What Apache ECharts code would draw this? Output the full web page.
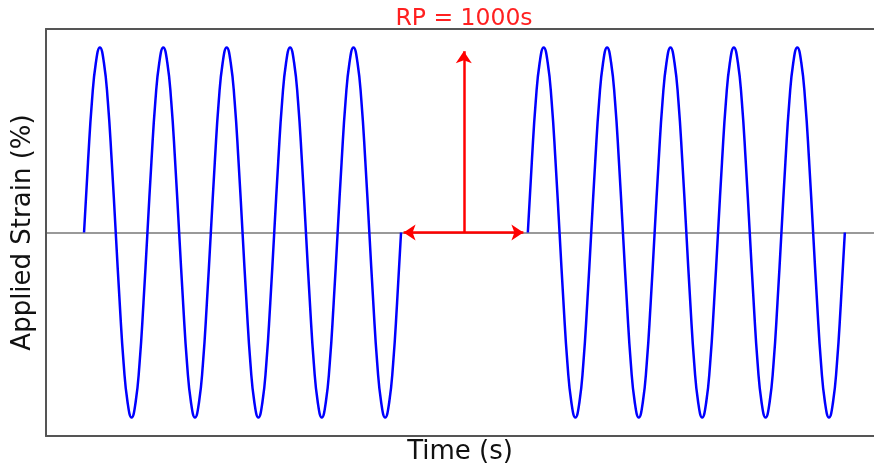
<!DOCTYPE html>
<html>
<head>
<meta charset="utf-8">
<script src="https://cdn.jsdelivr.net/npm/echarts@6/dist/echarts.min.js"></script>
<style>
  html, body { margin: 0; padding: 0; background: #fff; }
  #chart { width: 874px; height: 470px; }
</style>
</head>
<body>
<div id="chart"></div>
<script>
// time is in loading periods, sampled every 1/16 of a period
const sampleStep = 0.0625;
const block1Start = 0;
const block2Start = 7;

// strain values (peak = 1), five cycles per block
const strainBlock1 = [
  0, 0.38, 0.71, 0.92, 1, 0.92, 0.71, 0.38, 0, -0.38, -0.71, -0.92, -1, -0.92, -0.71, -0.38,
  0, 0.38, 0.71, 0.92, 1, 0.92, 0.71, 0.38, 0, -0.38, -0.71, -0.92, -1, -0.92, -0.71, -0.38,
  0, 0.38, 0.71, 0.92, 1, 0.92, 0.71, 0.38, 0, -0.38, -0.71, -0.92, -1, -0.92, -0.71, -0.38,
  0, 0.38, 0.71, 0.92, 1, 0.92, 0.71, 0.38, 0, -0.38, -0.71, -0.92, -1, -0.92, -0.71, -0.38,
  0, 0.38, 0.71, 0.92, 1, 0.92, 0.71, 0.38, 0, -0.38, -0.71, -0.92, -1, -0.92, -0.71, -0.38,
  0
];
const strainBlock2 = [
  0, 0.38, 0.71, 0.92, 1, 0.92, 0.71, 0.38, 0, -0.38, -0.71, -0.92, -1, -0.92, -0.71, -0.38,
  0, 0.38, 0.71, 0.92, 1, 0.92, 0.71, 0.38, 0, -0.38, -0.71, -0.92, -1, -0.92, -0.71, -0.38,
  0, 0.38, 0.71, 0.92, 1, 0.92, 0.71, 0.38, 0, -0.38, -0.71, -0.92, -1, -0.92, -0.71, -0.38,
  0, 0.38, 0.71, 0.92, 1, 0.92, 0.71, 0.38, 0, -0.38, -0.71, -0.92, -1, -0.92, -0.71, -0.38,
  0, 0.38, 0.71, 0.92, 1, 0.92, 0.71, 0.38, 0, -0.38, -0.71, -0.92, -1, -0.92, -0.71, -0.38,
  0
];

// rest period annotation
const restArrowX = [5.04, 6.93];
const restMarkX = 5.99;
const restMarkTop = 0.98;
const restLabel = 'RP = 1000s';

const font = '"DejaVu Sans", sans-serif';
const frame = { show: true, onZero: false, lineStyle: { color: '#555', width: 2 } };

function toPoints(start, values) {
  return values.map((v, i) => [start + i * sampleStep, v]);
}

const chart = echarts.init(document.getElementById('chart'));

chart.setOption({
  animation: false,
  grid: {
    left: 46,
    top: 29,
    right: 0,
    height: 407,
  },
  xAxis: [
    {
      type: 'value',
      min: -0.6,
      max: 12.46,
      name: 'Time (s)',
      nameLocation: 'middle',
      nameGap: 3,
      nameTextStyle: { fontFamily: font, fontSize: 26, color: '#111' },
      axisLine: frame,
      axisTick: { show: false },
      axisLabel: { show: false },
      splitLine: { show: false },
    },
    {
      type: 'value',
      position: 'top',
      min: -0.6,
      max: 12.46,
      axisLine: frame,
      axisTick: { show: false },
      axisLabel: { show: false },
      splitLine: { show: false },
    },
  ],
  yAxis: {
    type: 'value',
    min: -1.1,
    max: 1.1,
    interval: 1.1,
    name: 'Applied Strain (%)',
    nameLocation: 'middle',
    nameGap: 10,
    nameTextStyle: { fontFamily: font, fontSize: 26, color: '#111' },
    axisLine: frame,
    axisTick: { show: false },
    axisLabel: { show: false },
    splitLine: { show: true, lineStyle: { color: '#999', width: 2 } },
  },
  graphic: [
    {
      type: 'text',
      x: 464,
      y: 7,
      style: {
        text: restLabel,
        fill: '#ff2020',
        font: '23.5px ' + font,
        textAlign: 'center',
      },
    },
  ],
  series: [
    {
      type: 'line',
      data: toPoints(block1Start, strainBlock1),
      smooth: true,
      showSymbol: false,
      lineStyle: { color: '#0000ff', width: 2.5 },
      markLine: {
        silent: true,
        label: { show: false },
        symbolSize: [12, 12],
        lineStyle: { color: '#ff0000', width: 2.5, type: 'solid' },
        data: [
          [
            { coord: [restArrowX[0], 0], symbol: 'arrow' },
            { coord: [restArrowX[1], 0], symbol: 'arrow' },
          ],
          [
            { coord: [restMarkX, 0], symbol: 'none' },
            { coord: [restMarkX, restMarkTop], symbol: 'arrow' },
          ],
        ],
      },
    },
    {
      type: 'line',
      data: toPoints(block2Start, strainBlock2),
      smooth: true,
      showSymbol: false,
      lineStyle: { color: '#0000ff', width: 2.5 },
    },
  ],
});
</script>
</body>
</html>
